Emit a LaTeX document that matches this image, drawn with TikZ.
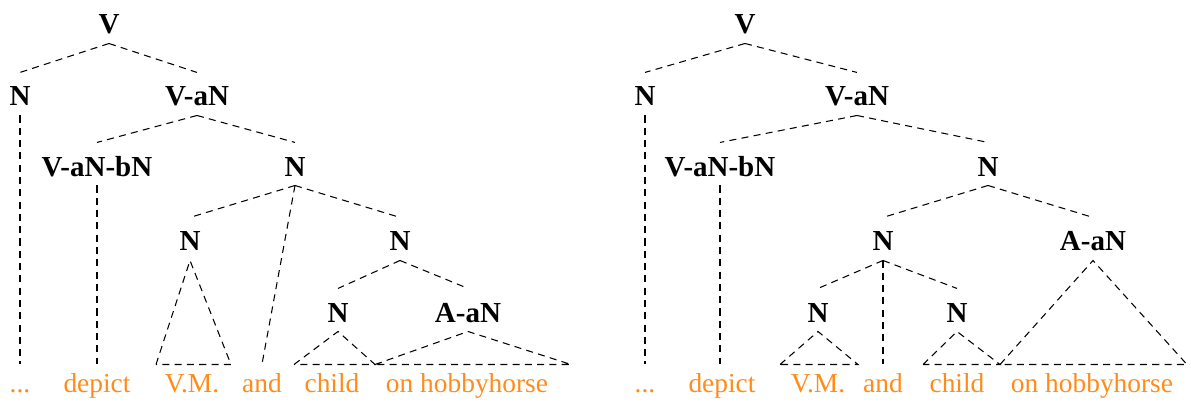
\documentclass[tikz,border=0pt]{standalone}
\usepackage{fontspec}
\setmainfont{Liberation Serif}
\definecolor{leaforange}{RGB}{255,140,26}
\begin{document}
\begin{tikzpicture}
[x=0.02cm,y=-0.02cm,
 every node/.style={inner sep=0pt, outer sep=0pt, anchor=base},
 cat/.style={font=\fontsize{16.5}{18}\selectfont\bfseries, text height=19.1pt, text depth=5.4pt},
 word/.style={font=\fontsize{15.6}{18}\selectfont, text=leaforange, text height=15.9pt},
 branch/.style={line width=.6pt, dash pattern=on 4pt off 3pt}]
\useasboundingbox (0,0) rectangle (1191,402);
\def \base {364.5} % where the triangles stand
% left tree
\node[cat] (v) at (109,34) {V};
\node[cat] (n) at (20,106) {N};
\node[cat] (va) at (197,106) {V-aN};
\node[cat] (vab) at (97,176) {V-aN-bN};
\node[cat] (n2) at (295,176) {N};
\node[cat] (n3) at (190,251) {N};
\node[cat] (n4) at (400,251) {N};
\node[cat] (n5) at (338,322) {N};
\node[cat] (aan) at (468,322) {A-aN};
\node[word] (dots) at (20,392) {...};
\node[word] (depict) at (97,392) {depict};
\node[word] (vm) at (192,392) {V.M.};
\node[word] (and) at (262,392) {and};
\node[word] (child) at (332,392) {child};
\node[word] (hh) at (467,392) {on hobbyhorse};
\coordinate (vm-l) at (156,\base);
\coordinate (vm-r) at (231,\base);
\coordinate (ch-l) at (294,\base);
\coordinate (ch-r) at (375,\base);
\coordinate (hh-r) at (571,\base);
\draw[branch] (v.south) to (n.north);
\draw[branch] (v.south) to (va.north);
\draw[branch] (va.south) to (vab.north);
\draw[branch] (va.south) to (n2.north);
\draw[branch] (n2.south) to (n3.north);
\draw[branch] (n2.south) to (n4.north);
\draw[branch] (n4.south) to (n5.north);
\draw[branch] (n4.south) to (aan.north);
\draw[branch] (n.south) to (n.south |- dots.north);
\draw[branch] (vab.south) to (vab.south |- depict.north);
\draw[branch] (n2.south) to (and.north);
\draw[branch] (vm-l) -- (n3.south) -- (vm-r) -- cycle;
\draw[branch] (ch-l) -- (n5.south) -- (ch-r) -- cycle;
\draw[branch] (ch-r) -- (aan.south) -- (hh-r) -- cycle;
% right tree
\node[cat] (rv) at (745,34) {V};
\node[cat] (rn) at (645,106) {N};
\node[cat] (rva) at (857,106) {V-aN};
\node[cat] (rvab) at (720,176) {V-aN-bN};
\node[cat] (rn2) at (988,176) {N};
\node[cat] (rn3) at (883,251) {N};
\node[cat] (raan) at (1093,251) {A-aN};
\node[cat] (rn4) at (818,322) {N};
\node[cat] (rn5) at (957,322) {N};
\node[word] (rdots) at (645,392) {...};
\node[word] (rdepict) at (722,392) {depict};
\node[word] (rvm) at (818,392) {V.M.};
\node[word] (rand) at (883,392) {and};
\node[word] (rchild) at (957,392) {child};
\node[word] (rhh) at (1092,392) {on hobbyhorse};
\coordinate (rvm-l) at (780,\base);
\coordinate (rvm-r) at (858,\base);
\coordinate (rch-l) at (923,\base);
\coordinate (rch-r) at (1000,\base);
\coordinate (rhh-r) at (1187,\base);
\draw[branch] (rv.south) to (rn.north);
\draw[branch] (rv.south) to (rva.north);
\draw[branch] (rva.south) to (rvab.north);
\draw[branch] (rva.south) to (rn2.north);
\draw[branch] (rn2.south) to (rn3.north);
\draw[branch] (rn2.south) to (raan.north);
\draw[branch] (rn3.south) to (rn4.north);
\draw[branch] (rn3.south) to (rand.north);
\draw[branch] (rn3.south) to (rn5.north);
\draw[branch] (rn.south) to (rn.south |- rdots.north);
\draw[branch] (rvab.south) to (rvab.south |- rdepict.north);
\draw[branch] (rvm-l) -- (rn4.south) -- (rvm-r) -- cycle;
\draw[branch] (rch-l) -- (rn5.south) -- (rch-r) -- cycle;
\draw[branch] (rch-r) -- (raan.south) -- (rhh-r) -- cycle;
\end{tikzpicture}
\end{document}
